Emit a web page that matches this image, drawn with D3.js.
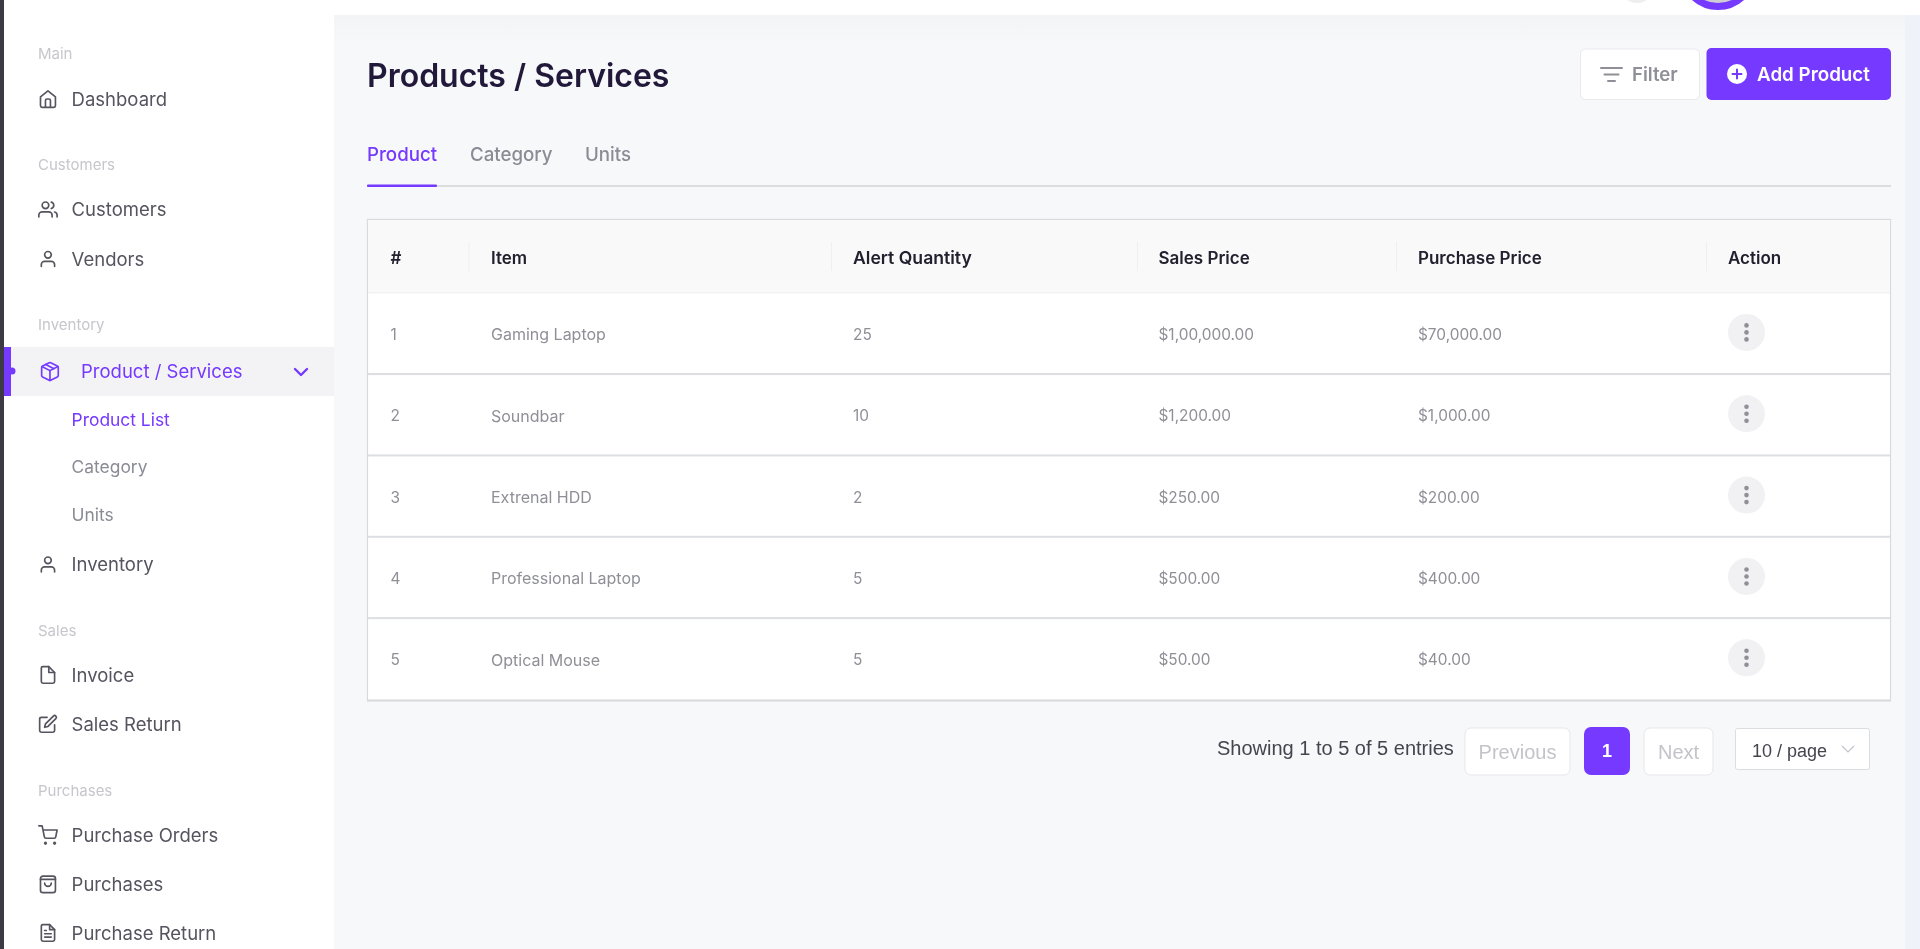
<!DOCTYPE html>
<html><head><meta charset="utf-8">
<script src="https://cdn.jsdelivr.net/npm/d3@7"></script>
<style>
html,body{margin:0;padding:0;background:#f7f8fa;overflow:hidden}
svg{display:block;font-family:Inter,"Noto Sans",sans-serif;filter:blur(.5px)}
</style></head><body>
<svg id="c" width="1920" height="949"></svg>
<script>
// ---- data ----
const navGroups = ["Main","Customers","Inventory","Sales","Purchases"];
const navItems = ["Dashboard","Customers","Vendors","Product / Services","Product List","Category","Units","Inventory","Invoice","Sales Return","Purchase Orders","Purchases","Purchase Return"];
const navIcons = ["home","users","user","package",null,null,null,"user","file","edit","cart","bag","filetext"];
const tabs = ["Product","Category","Units"];
const columns = ["#","Item","Alert Quantity","Sales Price","Purchase Price","Action"];
const ids = [1,2,3,4,5];
const items = ["Gaming Laptop","Soundbar","Extrenal HDD","Professional Laptop","Optical Mouse"];
const alertQty = [25,10,2,5,5];
const salesPrice = ["$1,00,000.00","$1,200.00","$250.00","$500.00","$50.00"];
const purchasePrice = ["$70,000.00","$1,000.00","$200.00","$400.00","$40.00"];

const PURPLE="#7539ff";
const iconPaths={
 home:["M3 9.5l9-7.2 9 7.2v10.7a2 2 0 0 1-2 2H5a2 2 0 0 1-2-2z","M9 22v-8a2 2 0 0 1 2-2h2a2 2 0 0 1 2 2v8"],
 users:["M17 21v-2a4 4 0 0 0-4-4H5a4 4 0 0 0-4 4v2","M13 7a4 4 0 1 1-8 0a4 4 0 1 1 8 0","M23 21v-2a4 4 0 0 0-3-3.87","M16 3.13a4 4 0 0 1 0 7.75"],
 user:["M20 21v-2a4 4 0 0 0-4-4H8a4 4 0 0 0-4 4v2","M16 7a4 4 0 1 1-8 0a4 4 0 1 1 8 0"],
 package:["M12.89 1.45l8 4A2 2 0 0 1 22 7.24v9.53a2 2 0 0 1-1.11 1.79l-8 4a2 2 0 0 1-1.79 0l-8-4a2 2 0 0 1-1.1-1.8V7.24a2 2 0 0 1 1.11-1.79l8-4a2 2 0 0 1 1.78 0z","M2.32 6.16L12 11l9.68-4.84","M12 22.76V11","M7 3.6l9.8 5"],
 file:["M13 2H6a2 2 0 0 0-2 2v16a2 2 0 0 0 2 2h12a2 2 0 0 0 2-2V9z","M13 2v7h7"],
 edit:["M11 4H4a2 2 0 0 0-2 2v14a2 2 0 0 0 2 2h14a2 2 0 0 0 2-2v-7","M18.5 2.5a2.121 2.121 0 0 1 3 3L12 15l-4 1 1-4 9.5-9.5z"],
 cart:["M9 21a1 1 0 1 1-.01 0","M20 21a1 1 0 1 1-.01 0","M1 1h4l2.68 13.39a2 2 0 0 0 2 1.61h9.72a2 2 0 0 0 2-1.61L23 6H6"],
 bag:["M6 2.5h12a3 3 0 0 1 3 3v14a3 3 0 0 1-3 3H6a3 3 0 0 1-3-3v-14a3 3 0 0 1 3-3z","M3 6.5h18","M8 11a4 4 0 0 0 8 0"],
 filetext:["M14 2H6a2 2 0 0 0-2 2v16a2 2 0 0 0 2 2h12a2 2 0 0 0 2-2V8z","M14 2v6h6","M16 13H8","M16 17H8","M10 9H8"]
};

const svg=d3.select("#c");
const rect=(x,y,w,h,f,o={})=>svg.append("rect").attr("x",x).attr("y",y).attr("width",w).attr("height",h).attr("fill",f).attr("rx",o.rx||0).attr("stroke",o.s||"none").attr("stroke-width",o.sw||1);
const text=(x,y,t,size,fill,o={})=>svg.append("text").attr("x",x).attr("y",y).attr("dy",".36em").attr("font-size",size).attr("fill",fill).attr("font-weight",o.w||400).attr("font-family",o.f||null).attr("text-anchor",o.a||"start").text(t);

// background
const grad=svg.append("defs").append("linearGradient").attr("id","topfade").attr("x1",0).attr("x2",0).attr("y1",0).attr("y2",1);
grad.append("stop").attr("offset",0).attr("stop-color","#f3f4f6");
grad.append("stop").attr("offset",1).attr("stop-color","#f7f8fa");
rect(0,0,1920,949,"#f7f8fa");
rect(1905,0,15,949,"#eff2f9");
rect(334,0,1586,15,"#ffffff");
rect(334,15,1571,28,"url(#topfade)");

// avatar remnants
svg.append("circle").attr("cx",1637).attr("cy",-14).attr("r",17).attr("fill","#eeeeef");
svg.append("circle").attr("cx",1718).attr("cy",-29).attr("r",35.5).attr("fill","#cfcdd4").attr("stroke",PURPLE).attr("stroke-width",7);

// sidebar
rect(0,0,334,949,"#ffffff");
rect(0,0,4,949,"#3c3a45");
const groupY=d3.scaleOrdinal().domain(navGroups).range([54,165,325,630.5,790.5]);
navGroups.forEach(g=>text(38,groupY(g),g,15,"#c6c6cc"));
const itemY=d3.scaleOrdinal().domain(navItems.map((d,i)=>i)).range([99,209.5,259,371.5,419.5,467,514.5,564.5,675,724,835,884,933]);
rect(4,347,330,49,"#f3f3f6");
rect(4,347,7,49,PURPLE);
svg.append("circle").attr("cx",12).attr("cy",371).attr("r",3.5).attr("fill",PURPLE);
rect(0,347,4,49,"#3c3a45");
navItems.forEach((t,i)=>{
  const active=i===3||i===4, sub=i>=4&&i<=6;
  const x=i===3?81:71.6;
  text(x,itemY(i),t,sub?17.4:18.5,active?PURPLE:(sub?"#8b8b95":"#55545f"));
  if(navIcons[i]){
    const g=svg.append("g").attr("transform",`translate(${i===3?40:38},${itemY(i)-10}) scale(.83)`);
    iconPaths[navIcons[i]].forEach(p=>g.append("path").attr("d",p).attr("fill","none").attr("stroke",active?PURPLE:"#55545f").attr("stroke-width",2).attr("stroke-linecap","round").attr("stroke-linejoin","round"));
  }
});
svg.append("path").attr("d","M295 369l6 6 6-6").attr("fill","none").attr("stroke",PURPLE).attr("stroke-width",2.4).attr("stroke-linecap","round").attr("stroke-linejoin","round");

// title
text(367,75,"Products / Services",32,"#22183a",{w:600});

// buttons
rect(1580.5,49,119,50.5,"#fff",{rx:5,s:"#e9e9ee",sw:1});
[21,14,7].forEach((w,i)=>svg.append("line").attr("x1",1611.5-w/2).attr("x2",1611.5+w/2).attr("y1",68+i*6.5).attr("y2",68+i*6.5).attr("stroke","#8f8f98").attr("stroke-width",2).attr("stroke-linecap","round"));
text(1632,74.5,"Filter",18.6,"#8f8f98",{w:600});
rect(1706.5,48,184.5,52,PURPLE,{rx:5});
svg.append("circle").attr("cx",1737).attr("cy",74).attr("r",10).attr("fill","#fff");
svg.append("path").attr("d","M1737 69.5v9M1732.5 74h9").attr("stroke",PURPLE).attr("stroke-width",2).attr("stroke-linecap","round");
text(1757,74.5,"Add Product",18.8,"#fff",{w:600});

// tabs
const tabX=d3.scaleOrdinal().domain(tabs).range([367,470,585]);
tabs.forEach((t,i)=>text(tabX(t),154,t,18.7,i?"#8b8b95":PURPLE,{w:500}));
rect(367,185,1524,2,"#dcdde1");
rect(367,184.5,70,2.5,PURPLE,{rx:1});

// table
rect(367.5,219.5,1523,481,"#ffffff",{s:"#d9dade",sw:1.2});
rect(368,220,1522,73,"#f9f9fa");
rect(368,292.3,1522,1,"#eeeef0");
const colX=d3.scaleOrdinal().domain(columns).range([390.5,491,853,1158.5,1418,1728]);
const sepX=d3.scaleOrdinal().domain(columns.slice(1)).range([468.5,831,1137,1396,1706]);
columns.forEach(c=>{
  text(colX(c),257.5,c,c==="Alert Quantity"?17.6:17,"#22202e",{w:600});
  if(c!=="#") rect(sepX(c),242,1,29,"#efeff1");
});
const rowY=d3.scaleBand().domain(ids).range([292.7,699.5]);
ids.forEach((id,i)=>{
  const y=rowY(id)+rowY.bandwidth()/2;
  const cells=[id,items[i],alertQty[i],salesPrice[i],purchasePrice[i]];
  cells.forEach((v,k)=>text(colX(columns[k]),y+1,v,k===1?16:15.4,"#8f8f98"));
  if(i<ids.length-1) rect(368,rowY(id)+rowY.bandwidth()-1,1522,2,"#dddee2");
  svg.append("circle").attr("cx",1746.5).attr("cy",y-1).attr("r",18.5).attr("fill","#f1f1f3");
  [-7,0,7].forEach(d=>svg.append("circle").attr("cx",1746.5).attr("cy",y-1+d).attr("r",2.3).attr("fill","#8f8f98"));
});
rect(367,699.5,1524,2,"#d9dade");

// pagination
const LS="'Liberation Sans',Arial,sans-serif";
text(1217,748,"Showing 1 to 5 of 5 entries",20,"#45444f",{f:LS});
rect(1465,728,105,47,"#fff",{rx:6,s:"#e7e7eb"});
text(1517.5,752,"Previous",20,"#c3c3c9",{f:LS,a:"middle"});
rect(1584,727,46,48,PURPLE,{rx:7});
text(1607,751,"1",18,"#fff",{f:LS,a:"middle",w:700});
rect(1644,728,69,47,"#fff",{rx:6,s:"#e7e7eb"});
text(1678.5,752,"Next",20,"#c3c3c9",{f:LS,a:"middle"});
rect(1735.5,728.5,134,41,"#fff",{rx:2,s:"#dcdde1"});
text(1752,751,"10 / page",18,"#45444f",{f:LS});
svg.append("path").attr("d","M1842 746l6 6 6-6").attr("fill","none").attr("stroke","#c3c3c9").attr("stroke-width",1.2);
</script></body></html>
